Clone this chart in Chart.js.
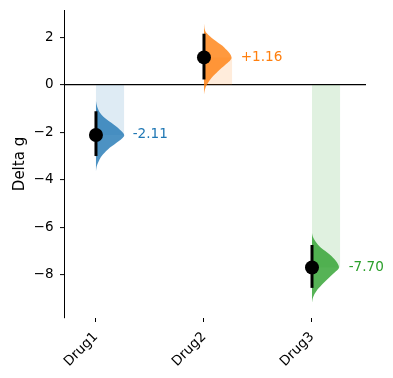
<!DOCTYPE html>
<html>
<head>
<meta charset="utf-8">
<script src="https://cdn.jsdelivr.net/npm/chart.js@4.4.0/dist/chart.umd.min.js"></script>
<style>
  html, body { margin: 0; padding: 0; background: #fff; }
  #wrap { width: 393px; height: 378px; }
</style>
</head>
<body>
<div id="wrap"><canvas id="myChart"></canvas></div>
<script>
// datos
const drugs = ['Drug1', 'Drug2', 'Drug3'];
const deltaG = [-2.11, 1.16, -7.70];
const ciLow = [-3.00, 0.23, -8.56];
const ciHigh = [-1.11, 2.16, -6.75];
const colors = ['#1f77b4', '#ff7f0e', '#2ca02c'];
const yTicks = [-8, -6, -4, -2, 0, 2];

// perfil de cada violín (valor y, ancho hacia la derecha en unidades de x)
const violin1Y = [-0.68, -0.90, -1.17, -1.46, -1.74, -2.02, -2.16, -2.44, -2.72, -3.00, -3.28, -3.45, -3.64];
const violin1W = [0, 0.01, 0.037, 0.10, 0.185, 0.25, 0.26, 0.19, 0.11, 0.053, 0.019, 0.006, 0];
const violin2Y = [2.58, 2.30, 2.13, 1.85, 1.57, 1.16, 0.86, 0.58, 0.30, 0.02, -0.20, -0.40];
const violin2W = [0, 0.01, 0.037, 0.11, 0.19, 0.255, 0.20, 0.13, 0.071, 0.028, 0.008, 0];
const violin3Y = [-6.24, -6.40, -6.59, -6.87, -7.15, -7.43, -7.70, -7.86, -8.14, -8.42, -8.70, -8.95, -9.19];
const violin3W = [0, 0.008, 0.031, 0.083, 0.164, 0.222, 0.25, 0.222, 0.155, 0.093, 0.04, 0.01, 0];

const violinsY = [violin1Y, violin2Y, violin3Y];
const violinsW = [violin1W, violin2W, violin3W];
const barW = 0.26;

Chart.defaults.font.family = 'DejaVu Sans';

function alpha(hex, a) {
    const n = parseInt(hex.slice(1), 16);
    return 'rgba(' + (n >> 16) + ',' + ((n >> 8) & 255) + ',' + (n & 255) + ',' + a + ')';
}

let datasets = [];

// puntos de la media
datasets.push({
    data: deltaG.map((v, i) => ({x: i, y: v})),
    showLine: false,
    pointRadius: 7,
    pointBackgroundColor: '#000',
    pointBorderWidth: 0,
    order: 1
});

drugs.forEach((d, i) => {
    // barra de error
    datasets.push({
        data: [{x: i, y: ciLow[i]}, {x: i, y: ciHigh[i]}],
        borderColor: '#000',
        borderWidth: 3,
        borderCapStyle: 'butt',
        pointRadius: 0,
        order: 2
    });
    // violín
    datasets.push({
        data: violinsY[i].map((y, k) => ({x: i + violinsW[i][k], y: y})),
        borderWidth: 0,
        pointRadius: 0,
        tension: 0.35,
        fill: 'shape',
        backgroundColor: alpha(colors[i], 0.8),
        order: 3
    });
    // rectángulo claro desde 0 hasta la media
    datasets.push({
        data: [{x: i, y: 0}, {x: i + barW, y: 0}, {x: i + barW, y: deltaG[i]}, {x: i, y: deltaG[i]}],
        borderWidth: 0,
        pointRadius: 0,
        fill: 'shape',
        backgroundColor: alpha(colors[i], 0.15),
        order: 4
    });
});

// etiquetas con el valor
const valueLabels = {
    id: 'valueLabels',
    afterDatasetsDraw(chart) {
        const {ctx, scales: {x, y}} = chart;
        ctx.save();
        ctx.font = '13.6px "DejaVu Sans"';
        ctx.textBaseline = 'middle';
        ctx.textAlign = 'left';
        deltaG.forEach((v, i) => {
            ctx.fillStyle = colors[i];
            const txt = (v > 0 ? '+' : '') + v.toFixed(2);
            ctx.fillText(txt, x.getPixelForValue(i + 0.34), y.getPixelForValue(v));
        });
        ctx.restore();
    }
};

let ctx = document.getElementById('myChart');
let chart = new Chart(ctx, {
    type: 'line',
    data: { datasets: datasets },
    plugins: [valueLabels],
    options: {
        responsive: true,
        maintainAspectRatio: false,
        animation: false,
        events: [],
        layout: { padding: { left: 0, right: 27, top: 10, bottom: 0 } },
        plugins: { legend: { display: false }, tooltip: { enabled: false } },
        scales: {
            x: {
                type: 'linear',
                min: -0.296,
                max: 2.5,
                afterBuildTicks: s => { s.ticks = drugs.map((d, i) => ({value: i})); },
                afterFit: s => { s.height = 60; s.paddingLeft = 0; s.paddingRight = 0; },
                border: { display: false },
                grid: { drawOnChartArea: false, drawTicks: true, tickLength: 4, tickColor: '#000', color: '#000' },
                ticks: {
                    color: '#000',
                    font: { size: 13.5 },
                    autoSkip: false,
                    minRotation: 45,
                    maxRotation: 45,
                    padding: 7,
                    callback: (v, i) => drugs[i]
                }
            },
            y: {
                min: -9.83,
                max: 3.16,
                afterBuildTicks: s => { s.ticks = yTicks.map(v => ({value: v})); },
                afterFit: s => { s.width = 64; s.paddingTop = 0; s.paddingBottom = 0; },
                border: { display: true, color: '#000', width: 1 },
                grid: {
                    color: c => (c.tick && c.tick.value === 0) ? '#000' : 'rgba(0,0,0,0)',
                    lineWidth: 1.2,
                    tickColor: '#000',
                    tickWidth: 1,
                    tickLength: 4
                },
                ticks: {
                    color: '#000',
                    font: { size: 13.5 },
                    padding: 6.5,
                    callback: v => String(v).replace('-', '\u2212')
                },
                title: {
                    display: true,
                    text: 'Delta g',
                    color: '#000',
                    font: { size: 15 },
                    padding: { top: 11, bottom: 0 }
                }
            }
        }
    }
});
</script>
</body>
</html>
